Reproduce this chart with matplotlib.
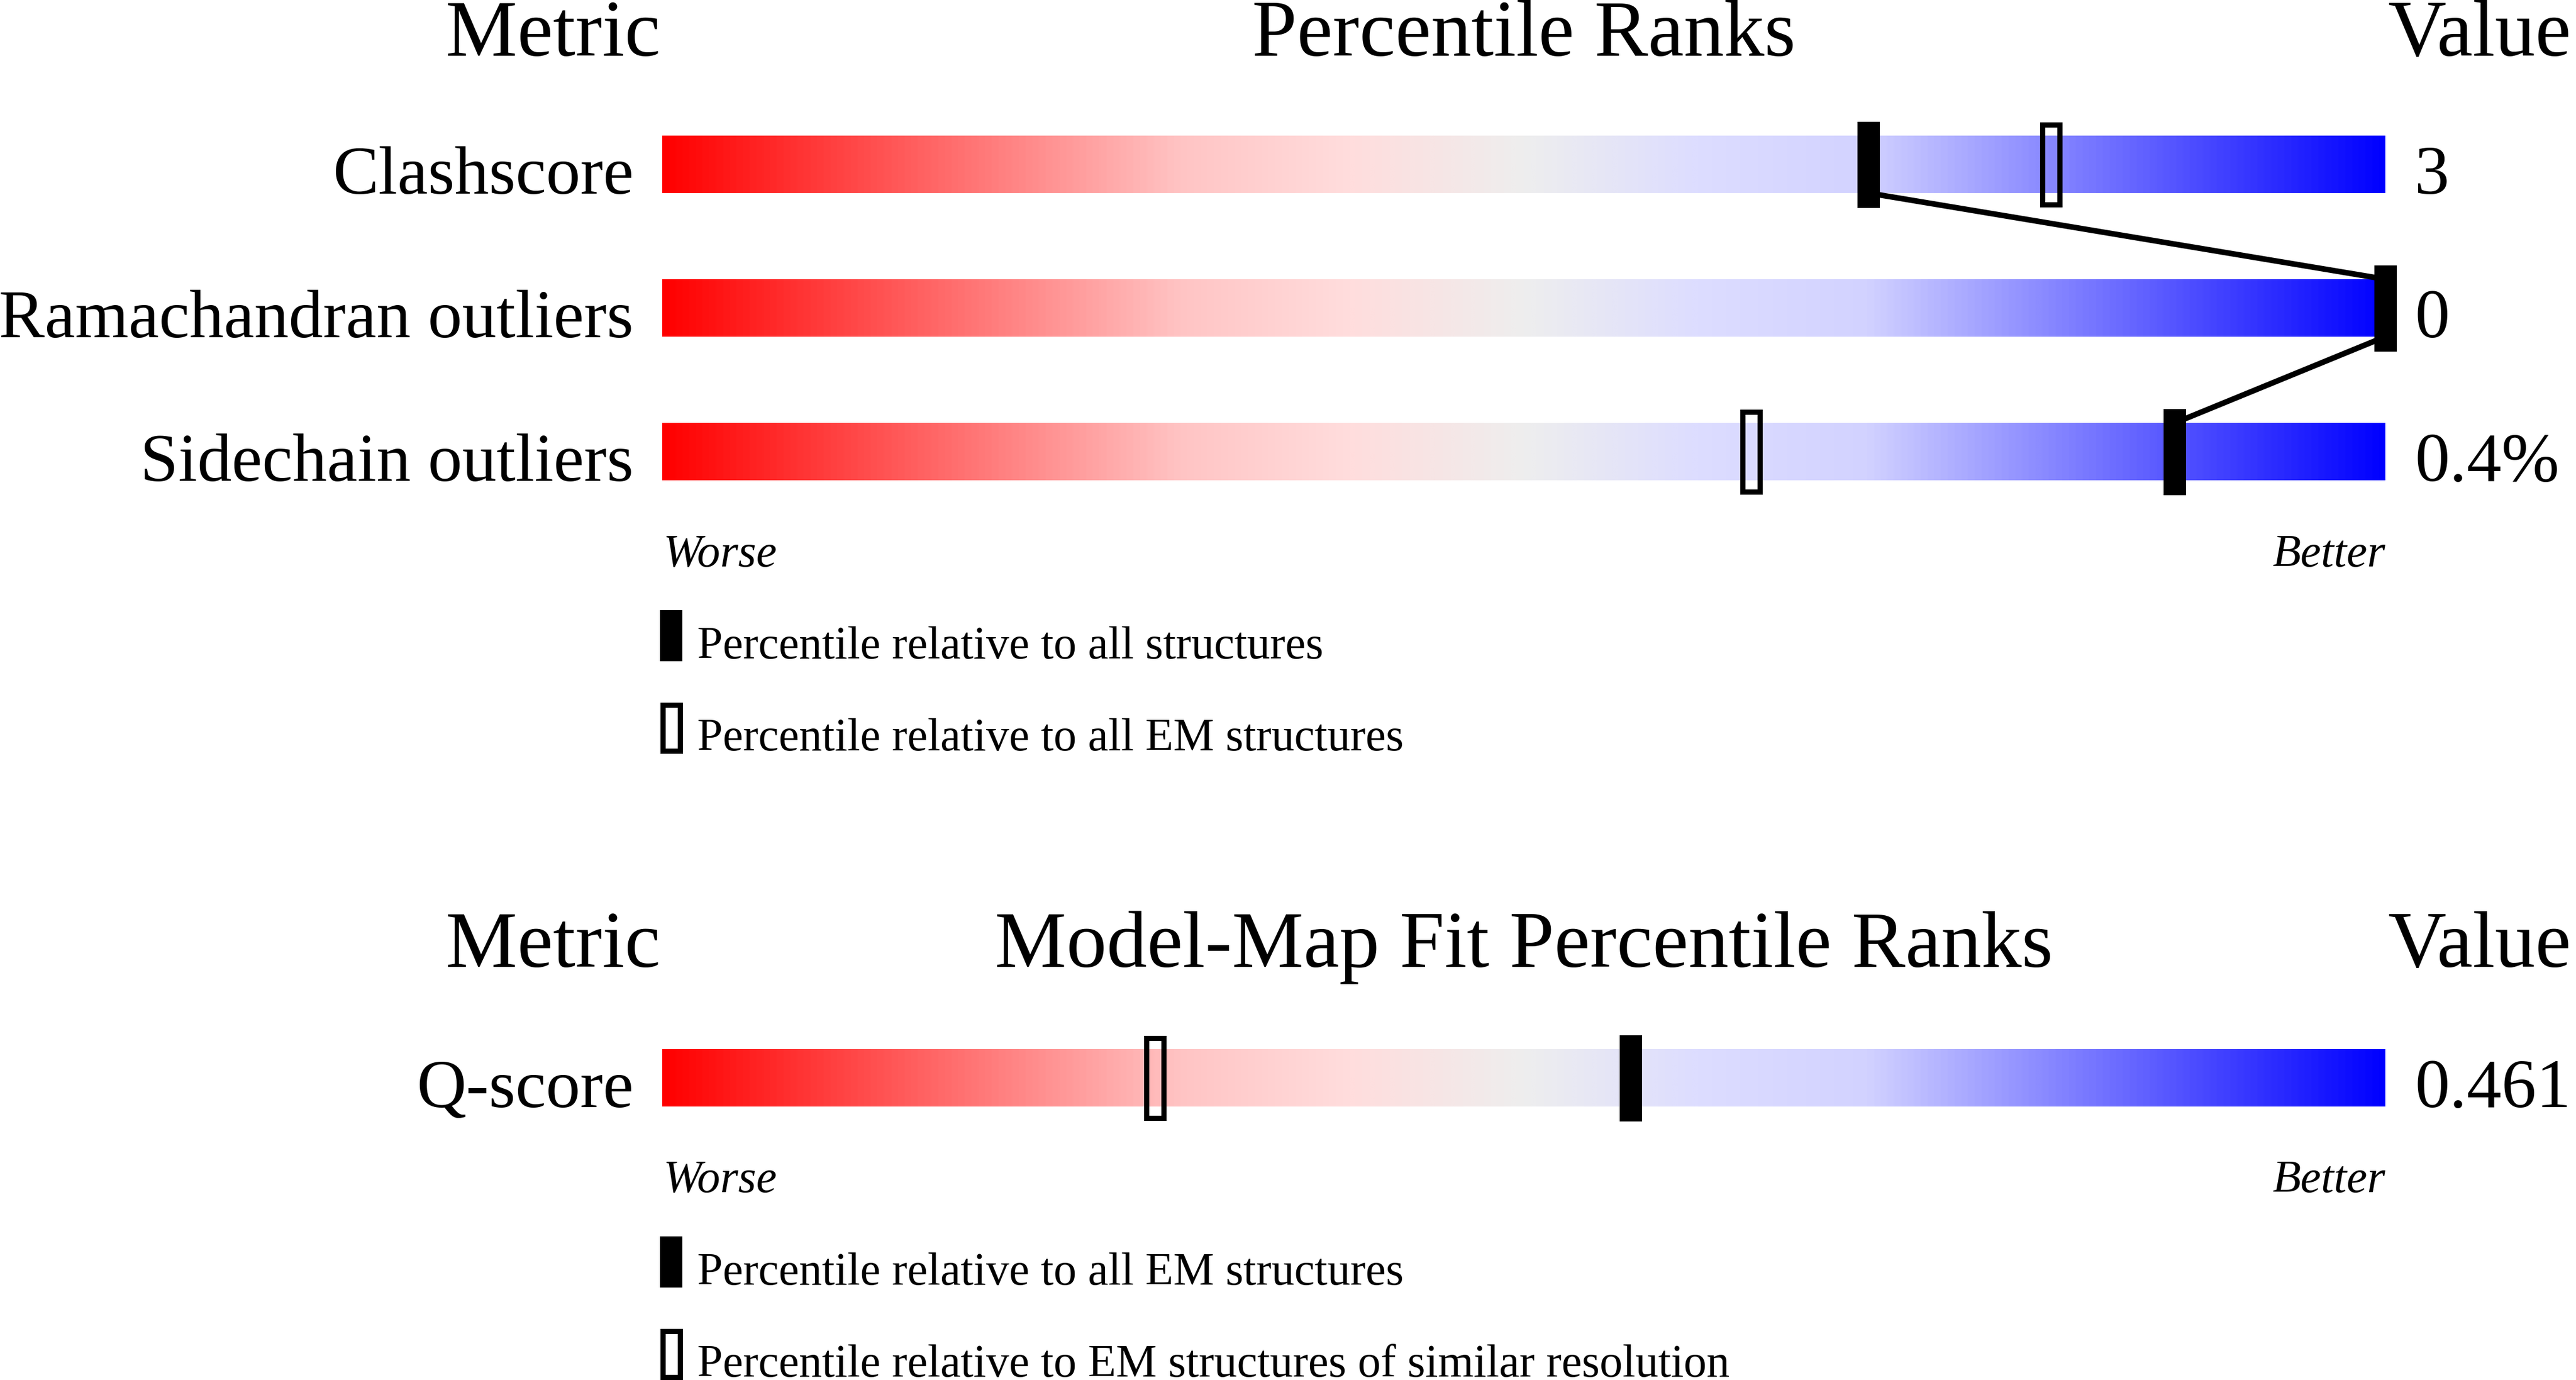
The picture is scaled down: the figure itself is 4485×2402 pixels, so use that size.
"""Validation percentile-rank sliders (geometry and model-map fit)."""
import numpy as np
from matplotlib import pyplot as plt
from matplotlib.colors import LinearSegmentedColormap
from matplotlib.patches import Rectangle

# geometry section
metrics = ['Clashscore', 'Ramachandran outliers', 'Sidechain outliers']
values = ['3', '0', '0.4%']
pct_all = [70, 100, 87.8]
pct_em = [80.6, 100, 63.2]
legend_top = ['Percentile relative to all structures',
              'Percentile relative to all EM structures']

# model-map fit section
fit_metrics = ['Q-score']
fit_values = ['0.461']
fit_pct_em = [56.2]
fit_pct_res = [28.6]
legend_bottom = ['Percentile relative to all EM structures',
                 'Percentile relative to EM structures of similar resolution']

W, H = 4485, 2402
BAR_L = 1153
PX = 30.0  # pixels per percentile unit

plt.rcParams['font.family'] = ['Liberation Serif', 'DejaVu Serif']

cmap = LinearSegmentedColormap.from_list('rank', [
    (0.0, '#ff0000'), (0.3, '#ffc4c4'), (0.4, '#ffdddd'), (0.5, '#eeeeee'),
    (0.6, '#ddddff'), (0.7, '#d2d2ff'), (1.0, '#0000ff')])
grad = np.linspace(0, 1, 1024).reshape(1, -1)

fig = plt.figure(figsize=(W / 100, H / 100), dpi=100)
ax = fig.add_axes([0, 0, 1, 1])


def px(p):
    """pixel offset -> percentile units"""
    return p / PX


def slider(top, name, val):
    ax.imshow(grad, extent=(0, 100, top + 100, top), aspect='auto',
              cmap=cmap, interpolation='bilinear', zorder=1)
    ax.text(px(-50), top + 101, name, ha='right', va='baseline', fontsize=86)
    ax.text(px(3051), top + 101, val, ha='left', va='baseline', fontsize=87)


def solid(p, top):
    ax.add_patch(Rectangle((p - px(19.5), top - 24), px(39), 150,
                           facecolor='black', edgecolor='none', zorder=4))


def hollow(p, top):
    ax.add_patch(Rectangle((p - px(15), top - 19.5), px(30), 139,
                           facecolor='none', edgecolor='black',
                           linewidth=6.5, zorder=3))


def header(base, mid):
    ax.text(px(-3), base, 'Metric', ha='right', va='baseline', fontsize=101)
    ax.text(50, base, mid, ha='center', va='baseline', fontsize=101)
    ax.text(px(3004), base, 'Value', ha='left', va='baseline', fontsize=101)


def footer(base, labels, box_top):
    ax.text(px(2), base, 'Worse', ha='left', va='baseline',
            fontsize=58, style='italic')
    ax.text(100, base, 'Better', ha='right', va='baseline',
            fontsize=58, style='italic')
    for k, lab in enumerate(labels):
        y0 = box_top + 160 * k
        if k == 0:
            ax.add_patch(Rectangle((px(-4), y0), px(39), 89,
                                   facecolor='black', edgecolor='none'))
        else:
            ax.add_patch(Rectangle((px(0.5), y0 + 4.5), px(30), 80,
                                   facecolor='none', edgecolor='black',
                                   linewidth=6.5))
        ax.text(px(61), y0 + 84, lab, ha='left', va='baseline', fontsize=57.5)


# top block
header(97, 'Percentile Ranks')
tops = [236, 486, 736]
for i in range(len(metrics)):
    slider(tops[i], metrics[i], values[i])
    hollow(pct_em[i], tops[i])
    solid(pct_all[i], tops[i])
for i in range(len(metrics) - 1):
    ax.plot([pct_all[i], pct_all[i + 1]], [tops[i] + 100, tops[i + 1]],
            color='black', linewidth=7, solid_capstyle='butt', zorder=2)
footer(986, legend_top, 1062)

# bottom block
header(1683, 'Model-Map Fit Percentile Ranks')
ftops = [1826]
for i in range(len(fit_metrics)):
    slider(ftops[i], fit_metrics[i], fit_values[i])
    hollow(fit_pct_res[i], ftops[i])
    solid(fit_pct_em[i], ftops[i])
footer(2075, legend_bottom, 2152)

ax.set_xlim(px(-BAR_L), px(W - BAR_L))
ax.set_ylim(H, 0)
ax.axis('off')
fig.savefig('out.png', dpi=100, facecolor='white')
